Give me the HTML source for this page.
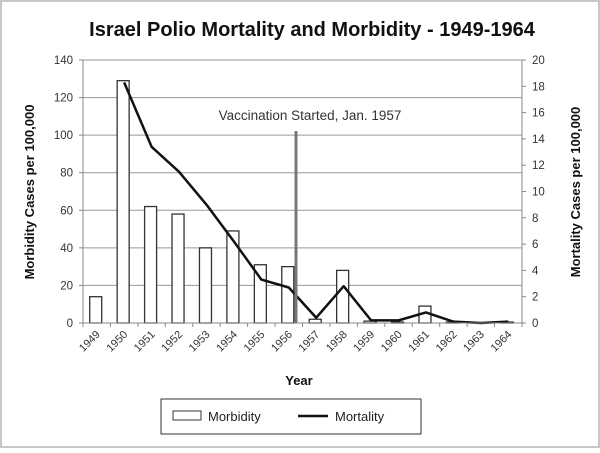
<!DOCTYPE html>
<html><head><meta charset="utf-8"><style>
body{margin:0;background:#fff;font-family:"Liberation Sans",sans-serif}
svg text{font-family:"Liberation Sans",sans-serif}
</style></head><body>
<svg width="600" height="448" viewBox="0 0 600 448">
<rect x="1" y="1" width="598" height="446" fill="#fff" stroke="#c8c8c8" stroke-width="2"/>
<text x="312" y="36" text-anchor="middle" font-size="20" font-weight="bold" fill="#111">Israel Polio Mortality and Morbidity - 1949-1964</text>
<g id="grid"></g><g id="bars"></g><g id="line"></g><g id="axes"></g>
<line x1="296" y1="131" x2="296" y2="323" stroke="#777" stroke-width="3"/>
<text x="310" y="120" text-anchor="middle" font-size="13.5" fill="#333">Vaccination Started, Jan. 1957</text>
<text transform="translate(34,192) rotate(-90)" text-anchor="middle" font-size="13" font-weight="bold" fill="#111">Morbidity Cases per 100,000</text>
<text transform="translate(580,192) rotate(-90)" text-anchor="middle" font-size="13" font-weight="bold" fill="#111">Mortality Cases per 100,000</text>
<text x="299" y="385" text-anchor="middle" font-size="13" font-weight="bold" fill="#111">Year</text>
<g>
<rect x="161" y="399" width="260" height="35" fill="#fff" stroke="#333"/>
<rect x="173" y="411" width="28" height="9" fill="#fff" stroke="#333"/>
<text x="208" y="421" font-size="13" fill="#222">Morbidity</text>
<line x1="298" y1="416" x2="328" y2="416" stroke="#111" stroke-width="2.5"/>
<text x="335" y="421" font-size="13" fill="#222">Mortality</text>
</g>
</svg>
<script>
const years=["1949","1950","1951","1952","1953","1954","1955","1956","1957","1958","1959","1960","1961","1962","1963","1964"];
const morbidity=[14,129,62,58,40,49,31,30,2,28,1,0.5,9,0.5,0,0.5];
const mortality=[null,18.3,13.4,11.5,9.0,6.2,3.3,2.7,0.4,2.8,0.2,0.2,0.8,0.1,0,0.1];
const leftTicks=[0,20,40,60,80,100,120,140];
const rightTicks=[0,2,4,6,8,10,12,14,16,18,20];
const NS="http://www.w3.org/2000/svg";
const L=83,R=522,T=60,B=323;
const cw=(R-L)/years.length;
const xC=i=>L+cw*(i+0.5);
const yL=v=>B-(B-T)*v/140;
const yR=v=>B-(B-T)*v/20;
function mk(tag,attrs,parent,txt){const e=document.createElementNS(NS,tag);for(const k in attrs)e.setAttribute(k,attrs[k]);if(txt!==undefined)e.textContent=txt;document.getElementById(parent).appendChild(e);return e;}
leftTicks.forEach(v=>{
 if(v>0){const g=mk('line',{x1:L,x2:R,y1:yL(v),y2:yL(v),stroke:'#999','stroke-width':1},'grid');
 
 }
 const t=mk('text',{x:L-10,y:yL(v)+4,'text-anchor':'end','font-size':11.5,fill:'#333'},'axes',v);
 
 
 const tk=mk('line',{x1:L-4,x2:L,y1:yL(v),y2:yL(v),stroke:'#888'},'axes');
 
 
});
rightTicks.forEach(v=>{
 const t=mk('text',{x:R+10,y:yR(v)+4,'text-anchor':'start','font-size':11.5,fill:'#333'},'axes',v);
 
 
 const tk=mk('line',{x1:R,x2:R+4,y1:yR(v),y2:yR(v),stroke:'#888'},'axes');
 
 
});
let a=mk('line',{x1:L,x2:L,y1:T,y2:B,stroke:'#888'},'axes');


a=mk('line',{x1:R,x2:R,y1:T,y2:B,stroke:'#888'},'axes');


a=mk('line',{x1:L,x2:R,y1:B,y2:B,stroke:'#888'},'axes');


for(let i=0;i<=years.length;i++){
 const tk=mk('line',{x1:L+cw*i,x2:L+cw*i,y1:B,y2:B+4,stroke:'#888'},'axes');
 
 
}
years.forEach((y,i)=>{
 const t=mk('text',{transform:`translate(${xC(i)+4},${B+12}) rotate(-45)`,'text-anchor':'end','font-size':11,fill:'#333'},'axes',y);
 
 
 const bw=12;
 const b=mk('rect',{x:xC(i)-bw/2-1,y:yL(morbidity[i]),width:bw,height:B-yL(morbidity[i]),fill:'#fff',stroke:'#333','stroke-width':1.3},'bars');
 
 
});
let d='';
mortality.forEach((v,i)=>{if(v===null)return;d+=(d?'L':'M')+xC(i)+','+yR(v);});
const p=mk('path',{d:d,fill:'none',stroke:'#111','stroke-width':2.5,'stroke-linejoin':'round'},'line');


</script>
</body></html>
